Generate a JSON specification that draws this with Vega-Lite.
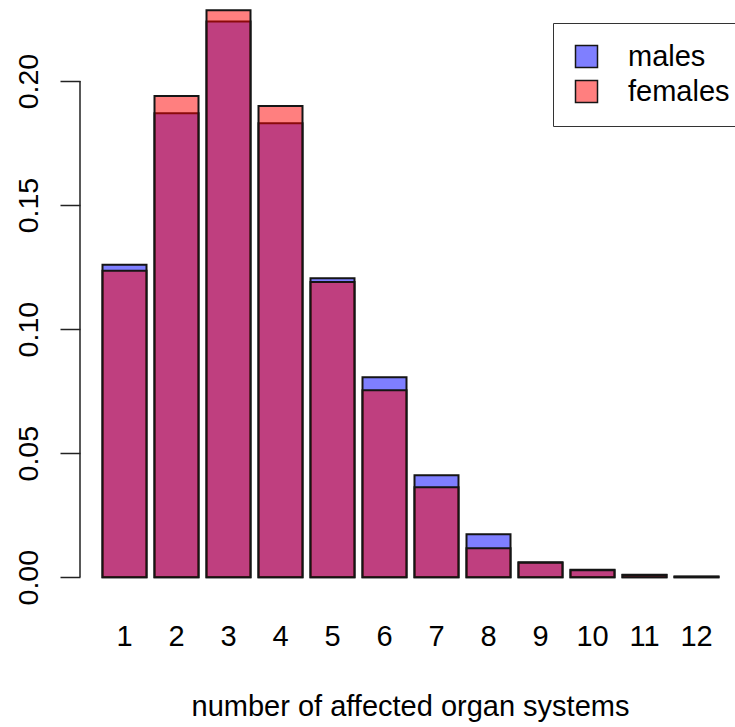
{
  "$schema": "https://vega.github.io/schema/vega-lite/v6.json",
  "autosize": {"type": "none"},
  "width": 655,
  "height": 600,
  "padding": {"left": 80, "top": 0, "right": 0, "bottom": 127},
  "background": "white",
  "config": {
    "font": "Liberation Sans",
    "view": {"stroke": null},
    "axis": {"grid": false, "labelColor": "black", "titleColor": "black", "labelFont": "Liberation Sans", "titleFont": "Liberation Sans"},
    "legend": {"labelFont": "Liberation Sans"}
  },
  "layer": [
    {
      "data": {
        "values": [
          {"n": 1, "sex": "males", "value": 0.126},
          {"n": 2, "sex": "males", "value": 0.187},
          {"n": 3, "sex": "males", "value": 0.224},
          {"n": 4, "sex": "males", "value": 0.183},
          {"n": 5, "sex": "males", "value": 0.1205},
          {"n": 6, "sex": "males", "value": 0.0806},
          {"n": 7, "sex": "males", "value": 0.0411},
          {"n": 8, "sex": "males", "value": 0.0173},
          {"n": 9, "sex": "males", "value": 0.006},
          {"n": 10, "sex": "males", "value": 0.003},
          {"n": 11, "sex": "males", "value": 0.001},
          {"n": 12, "sex": "males", "value": 0.0003},
          {"n": 1, "sex": "females", "value": 0.1235},
          {"n": 2, "sex": "females", "value": 0.194},
          {"n": 3, "sex": "females", "value": 0.2286},
          {"n": 4, "sex": "females", "value": 0.19},
          {"n": 5, "sex": "females", "value": 0.119},
          {"n": 6, "sex": "females", "value": 0.0754},
          {"n": 7, "sex": "females", "value": 0.0363},
          {"n": 8, "sex": "females", "value": 0.0117},
          {"n": 9, "sex": "females", "value": 0.0058},
          {"n": 10, "sex": "females", "value": 0.0028},
          {"n": 11, "sex": "females", "value": 0.0009},
          {"n": 12, "sex": "females", "value": 0.0002}
        ]
      },
      "mark": {"type": "bar", "stroke": "#151515", "strokeWidth": 2},
      "encoding": {
        "x": {
          "field": "n",
          "type": "ordinal",
          "scale": {"paddingInner": 0.1538, "paddingOuter": 0.375, "align": 0.577},
          "axis": {
            "title": "number of affected organ systems",
            "titleFontSize": 29,
            "titleFontWeight": "normal",
            "titleBaseline": "alphabetic",
            "titleAlign": "center",
            "titleX": 330,
            "titleY": 115,
            "labelFontSize": 29,
            "labelAngle": 0,
            "labelBaseline": "alphabetic",
            "labelPadding": 45,
            "ticks": false,
            "tickSize": 0,
            "domain": false
          }
        },
        "y": {
          "field": "value",
          "type": "quantitative",
          "stack": null,
          "scale": {"domain": [-0.0092, 0.2327], "nice": false, "zero": false},
          "axis": {
            "title": null,
            "values": [0, 0.05, 0.1, 0.15, 0.2],
            "format": ".2f",
            "labelFontSize": 28.5,
            "labelAngle": 270,
            "labelAlign": "center",
            "labelBaseline": "alphabetic",
            "labelPadding": 23,
            "tickSize": 20,
            "tickColor": "#222",
            "tickWidth": 1.5,
            "domain": false
          }
        },
        "color": {
          "field": "sex",
          "type": "nominal",
          "sort": ["males", "females"],
          "scale": {"domain": ["males", "females"], "range": ["rgba(0,0,255,0.5)", "rgba(255,0,0,0.5)"]},
          "legend": {
            "title": null,
            "orient": "none",
            "legendX": 473,
            "legendY": 23,
            "padding": 19,
            "symbolType": "square",
            "symbolSize": 484,
            "symbolStrokeColor": "#151515",
            "symbolStrokeWidth": 1.5,
            "labelFontSize": 29,
            "labelColor": "black",
            "labelOffset": 27,
            "rowPadding": 5,
            "strokeColor": "#333",
            "fillColor": "white"
          }
        }
      }
    },
    {
      "data": {"values": [{"lo": 0, "hi": 0.2}]},
      "mark": {"type": "rule", "color": "#222", "strokeWidth": 1.5},
      "encoding": {
        "x": {"value": 0},
        "y": {"field": "lo", "type": "quantitative"},
        "y2": {"field": "hi"}
      }
    }
  ]
}
